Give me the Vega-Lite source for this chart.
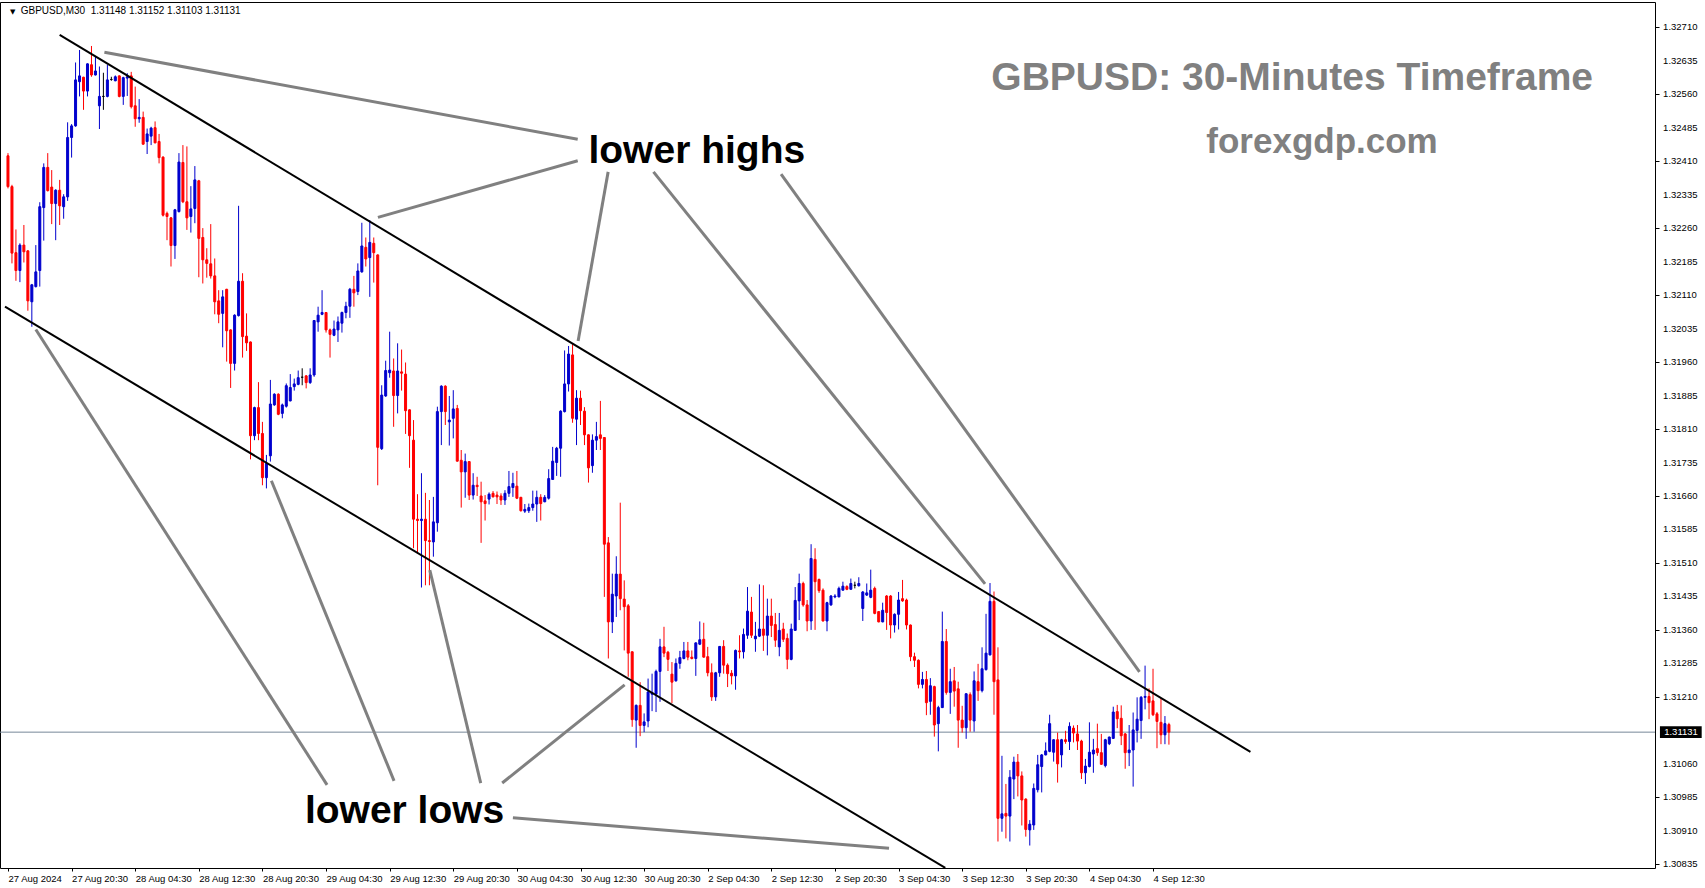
{
"$schema": "https://vega.github.io/schema/vega-lite/v6.json",
"width": 1655, "height": 866,
"autosize": {"type": "none"},
"padding": {"left": 0, "top": 2, "right": 50, "bottom": 20},
"background": "white",
"config": {"view": {"stroke": "black", "strokeWidth": 1}, "font": "Liberation Sans"},
"datasets": {
"candles": [
{"i":0,"o":1.32422,"h":1.32428,"l":1.32349,"c":1.32353},
{"i":1,"o":1.32353,"h":1.32357,"l":1.32181,"c":1.32204},
{"i":2,"o":1.32205,"h":1.32257,"l":1.32142,"c":1.32165},
{"i":3,"o":1.32165,"h":1.32226,"l":1.32139,"c":1.32222},
{"i":4,"o":1.32222,"h":1.32267,"l":1.32183,"c":1.32207},
{"i":5,"o":1.32209,"h":1.32211,"l":1.32075,"c":1.32097},
{"i":6,"o":1.32095,"h":1.32135,"l":1.32039,"c":1.32133},
{"i":7,"o":1.32129,"h":1.32222,"l":1.32127,"c":1.32162},
{"i":8,"o":1.32165,"h":1.32318,"l":1.32129,"c":1.32308},
{"i":9,"o":1.32306,"h":1.32405,"l":1.32232,"c":1.32396},
{"i":10,"o":1.32396,"h":1.32428,"l":1.32342,"c":1.32344},
{"i":11,"o":1.32352,"h":1.3239,"l":1.32269,"c":1.32315},
{"i":12,"o":1.32315,"h":1.32347,"l":1.32233,"c":1.32345},
{"i":13,"o":1.32345,"h":1.32368,"l":1.32267,"c":1.3231},
{"i":14,"o":1.32308,"h":1.32336,"l":1.32281,"c":1.3233},
{"i":15,"o":1.3233,"h":1.32497,"l":1.32321,"c":1.32463},
{"i":16,"o":1.32463,"h":1.32493,"l":1.32418,"c":1.32489},
{"i":17,"o":1.32489,"h":1.32631,"l":1.32487,"c":1.32592},
{"i":18,"o":1.32588,"h":1.32659,"l":1.32555,"c":1.32601},
{"i":19,"o":1.32598,"h":1.32599,"l":1.32525,"c":1.32567},
{"i":20,"o":1.32567,"h":1.32629,"l":1.32555,"c":1.32628},
{"i":21,"o":1.32626,"h":1.32668,"l":1.32599,"c":1.32603},
{"i":22,"o":1.32603,"h":1.32644,"l":1.32602,"c":1.32612},
{"i":23,"o":1.32534,"h":1.32622,"l":1.32482,"c":1.32555},
{"i":24,"o":1.32555,"h":1.32608,"l":1.32525,"c":1.32555},
{"i":25,"o":1.32555,"h":1.32626,"l":1.32553,"c":1.32592},
{"i":26,"o":1.32593,"h":1.32599,"l":1.3259,"c":1.32593},
{"i":27,"o":1.3259,"h":1.32602,"l":1.32589,"c":1.32599},
{"i":28,"o":1.32601,"h":1.32602,"l":1.32553,"c":1.32555},
{"i":29,"o":1.32555,"h":1.32599,"l":1.32536,"c":1.32597},
{"i":30,"o":1.32596,"h":1.32607,"l":1.32556,"c":1.32599},
{"i":31,"o":1.32601,"h":1.3261,"l":1.32528,"c":1.32532},
{"i":32,"o":1.32534,"h":1.32577,"l":1.32487,"c":1.32505},
{"i":33,"o":1.32505,"h":1.32549,"l":1.32496,"c":1.32508},
{"i":34,"o":1.32508,"h":1.32521,"l":1.32447,"c":1.32448},
{"i":35,"o":1.32454,"h":1.32483,"l":1.32426,"c":1.32471},
{"i":36,"o":1.32466,"h":1.32487,"l":1.32446,"c":1.32484},
{"i":37,"o":1.32485,"h":1.32499,"l":1.3245,"c":1.32451},
{"i":38,"o":1.32454,"h":1.32471,"l":1.32405,"c":1.32418},
{"i":39,"o":1.32419,"h":1.32421,"l":1.32286,"c":1.32289},
{"i":40,"o":1.32293,"h":1.32297,"l":1.32233,"c":1.32286},
{"i":41,"o":1.32283,"h":1.32285,"l":1.32174,"c":1.32221},
{"i":42,"o":1.32221,"h":1.32303,"l":1.32191,"c":1.32301},
{"i":43,"o":1.32297,"h":1.32428,"l":1.32295,"c":1.32408},
{"i":44,"o":1.32407,"h":1.32446,"l":1.32316,"c":1.32319},
{"i":45,"o":1.32319,"h":1.32443,"l":1.32256,"c":1.32283},
{"i":46,"o":1.32286,"h":1.32354,"l":1.3225,"c":1.32303},
{"i":47,"o":1.32304,"h":1.32399,"l":1.32271,"c":1.32368},
{"i":48,"o":1.32366,"h":1.32368,"l":1.3215,"c":1.32237},
{"i":49,"o":1.32239,"h":1.3226,"l":1.32136,"c":1.32189},
{"i":50,"o":1.32189,"h":1.32215,"l":1.32149,"c":1.32181},
{"i":51,"o":1.3218,"h":1.32269,"l":1.32147,"c":1.32153},
{"i":52,"o":1.32153,"h":1.32192,"l":1.32067,"c":1.32095},
{"i":53,"o":1.32097,"h":1.32121,"l":1.32047,"c":1.32067},
{"i":54,"o":1.32069,"h":1.32121,"l":1.31993,"c":1.32106},
{"i":55,"o":1.32123,"h":1.32124,"l":1.31961,"c":1.3203},
{"i":56,"o":1.32032,"h":1.32033,"l":1.31902,"c":1.31957},
{"i":57,"o":1.31957,"h":1.32067,"l":1.31941,"c":1.32065},
{"i":58,"o":1.32064,"h":1.3231,"l":1.32062,"c":1.32141},
{"i":59,"o":1.32141,"h":1.32159,"l":1.3197,"c":1.32017},
{"i":60,"o":1.32018,"h":1.32069,"l":1.31985,"c":1.32003},
{"i":61,"o":1.32005,"h":1.32006,"l":1.31742,"c":1.31795},
{"i":62,"o":1.31795,"h":1.3186,"l":1.31785,"c":1.31858},
{"i":63,"o":1.31858,"h":1.31915,"l":1.31785,"c":1.318},
{"i":64,"o":1.318,"h":1.31826,"l":1.31684,"c":1.31701},
{"i":65,"o":1.31701,"h":1.31752,"l":1.31677,"c":1.31733},
{"i":66,"o":1.3175,"h":1.3192,"l":1.31737,"c":1.31866},
{"i":67,"o":1.31864,"h":1.3189,"l":1.31862,"c":1.31888},
{"i":68,"o":1.31888,"h":1.3189,"l":1.31841,"c":1.31843},
{"i":69,"o":1.31845,"h":1.31867,"l":1.31834,"c":1.31864},
{"i":70,"o":1.31861,"h":1.31912,"l":1.31858,"c":1.31907},
{"i":71,"o":1.31873,"h":1.31933,"l":1.31872,"c":1.31903},
{"i":72,"o":1.31905,"h":1.31923,"l":1.31896,"c":1.31911},
{"i":73,"o":1.3191,"h":1.31941,"l":1.31908,"c":1.31925},
{"i":74,"o":1.31926,"h":1.31946,"l":1.31908,"c":1.31926},
{"i":75,"o":1.31929,"h":1.31931,"l":1.31901,"c":1.31914},
{"i":76,"o":1.31914,"h":1.31946,"l":1.31911,"c":1.31931},
{"i":77,"o":1.31931,"h":1.32054,"l":1.31927,"c":1.32053},
{"i":78,"o":1.3205,"h":1.32084,"l":1.32028,"c":1.32065},
{"i":79,"o":1.32067,"h":1.32121,"l":1.32065,"c":1.32071},
{"i":80,"o":1.32071,"h":1.32072,"l":1.32026,"c":1.32032},
{"i":81,"o":1.32032,"h":1.32035,"l":1.3197,"c":1.32022},
{"i":82,"o":1.3202,"h":1.32053,"l":1.32018,"c":1.32034},
{"i":83,"o":1.32032,"h":1.32062,"l":1.32005,"c":1.3205},
{"i":84,"o":1.32047,"h":1.32073,"l":1.32026,"c":1.32071},
{"i":85,"o":1.32071,"h":1.32095,"l":1.32058,"c":1.32085},
{"i":86,"o":1.32085,"h":1.32126,"l":1.32059,"c":1.32123},
{"i":87,"o":1.32123,"h":1.32153,"l":1.32084,"c":1.32115},
{"i":88,"o":1.32118,"h":1.32181,"l":1.3211,"c":1.32164},
{"i":89,"o":1.32162,"h":1.32272,"l":1.3216,"c":1.3222},
{"i":90,"o":1.32217,"h":1.32239,"l":1.32174,"c":1.32191},
{"i":91,"o":1.32194,"h":1.32278,"l":1.32106,"c":1.32228},
{"i":92,"o":1.32226,"h":1.32239,"l":1.32138,"c":1.32205},
{"i":93,"o":1.322,"h":1.32201,"l":1.31684,"c":1.31769},
{"i":94,"o":1.31766,"h":1.31908,"l":1.31763,"c":1.31886},
{"i":95,"o":1.31884,"h":1.31963,"l":1.31882,"c":1.31941},
{"i":96,"o":1.31936,"h":1.32028,"l":1.31925,"c":1.31942},
{"i":97,"o":1.3194,"h":1.31968,"l":1.31815,"c":1.31885},
{"i":98,"o":1.31885,"h":1.32002,"l":1.31845,"c":1.3194},
{"i":99,"o":1.31938,"h":1.31988,"l":1.31896,"c":1.31935},
{"i":100,"o":1.31933,"h":1.31959,"l":1.31799,"c":1.31851},
{"i":101,"o":1.31853,"h":1.31854,"l":1.31723,"c":1.31795},
{"i":102,"o":1.31785,"h":1.3183,"l":1.31543,"c":1.31608},
{"i":103,"o":1.31608,"h":1.31664,"l":1.31531,"c":1.31605},
{"i":104,"o":1.31605,"h":1.31711,"l":1.31455,"c":1.31608},
{"i":105,"o":1.31608,"h":1.31667,"l":1.3146,"c":1.3156},
{"i":106,"o":1.3156,"h":1.31651,"l":1.3146,"c":1.31558},
{"i":107,"o":1.31557,"h":1.31658,"l":1.31524,"c":1.31602},
{"i":108,"o":1.316,"h":1.3186,"l":1.3158,"c":1.31849},
{"i":109,"o":1.31849,"h":1.31908,"l":1.31774,"c":1.31906},
{"i":110,"o":1.31906,"h":1.31908,"l":1.31819,"c":1.31849},
{"i":111,"o":1.31826,"h":1.31884,"l":1.31773,"c":1.3183},
{"i":112,"o":1.31834,"h":1.31897,"l":1.31789,"c":1.31855},
{"i":113,"o":1.31856,"h":1.31864,"l":1.31737,"c":1.31738},
{"i":114,"o":1.3174,"h":1.31763,"l":1.31634,"c":1.31714},
{"i":115,"o":1.31714,"h":1.31755,"l":1.31656,"c":1.31737},
{"i":116,"o":1.31737,"h":1.31738,"l":1.31651,"c":1.31662},
{"i":117,"o":1.31662,"h":1.31711,"l":1.31652,"c":1.31684},
{"i":118,"o":1.31684,"h":1.31703,"l":1.3166,"c":1.31681},
{"i":119,"o":1.3166,"h":1.31692,"l":1.31555,"c":1.31647},
{"i":120,"o":1.31649,"h":1.31662,"l":1.31605,"c":1.31643},
{"i":121,"o":1.31653,"h":1.31668,"l":1.31641,"c":1.31664},
{"i":122,"o":1.31666,"h":1.31671,"l":1.31657,"c":1.31658},
{"i":123,"o":1.31662,"h":1.3167,"l":1.31642,"c":1.31658},
{"i":124,"o":1.3166,"h":1.31666,"l":1.3164,"c":1.31651},
{"i":125,"o":1.31651,"h":1.31673,"l":1.3164,"c":1.31666},
{"i":126,"o":1.31666,"h":1.31716,"l":1.31658,"c":1.31681},
{"i":127,"o":1.31679,"h":1.31712,"l":1.31658,"c":1.31688},
{"i":128,"o":1.31682,"h":1.31716,"l":1.31653,"c":1.31655},
{"i":129,"o":1.31657,"h":1.31658,"l":1.31625,"c":1.31627},
{"i":130,"o":1.31626,"h":1.31642,"l":1.31622,"c":1.3163},
{"i":131,"o":1.31627,"h":1.31643,"l":1.31622,"c":1.31634},
{"i":132,"o":1.31634,"h":1.31672,"l":1.31627,"c":1.31642},
{"i":133,"o":1.31642,"h":1.31672,"l":1.31602,"c":1.31657},
{"i":134,"o":1.31657,"h":1.31664,"l":1.31605,"c":1.31643},
{"i":135,"o":1.31647,"h":1.31662,"l":1.31646,"c":1.31657},
{"i":136,"o":1.31655,"h":1.3172,"l":1.31652,"c":1.31699},
{"i":137,"o":1.31697,"h":1.3177,"l":1.31696,"c":1.31738},
{"i":138,"o":1.31735,"h":1.3177,"l":1.31705,"c":1.31767},
{"i":139,"o":1.31767,"h":1.31852,"l":1.31703,"c":1.3185},
{"i":140,"o":1.31849,"h":1.31986,"l":1.31847,"c":1.31911},
{"i":141,"o":1.31911,"h":1.31996,"l":1.31894,"c":1.31978},
{"i":142,"o":1.31976,"h":1.32,"l":1.31824,"c":1.31834},
{"i":143,"o":1.31832,"h":1.31897,"l":1.31774,"c":1.31879},
{"i":144,"o":1.31879,"h":1.31896,"l":1.31819,"c":1.31851},
{"i":145,"o":1.3185,"h":1.31859,"l":1.31774,"c":1.31797},
{"i":146,"o":1.31797,"h":1.31798,"l":1.3169,"c":1.31723},
{"i":147,"o":1.31728,"h":1.31798,"l":1.31712,"c":1.31785},
{"i":148,"o":1.31785,"h":1.31826,"l":1.31763,"c":1.31793},
{"i":149,"o":1.31797,"h":1.31873,"l":1.31763,"c":1.31789},
{"i":150,"o":1.31791,"h":1.31792,"l":1.31434,"c":1.31552},
{"i":151,"o":1.31555,"h":1.31568,"l":1.31296,"c":1.31378},
{"i":152,"o":1.31378,"h":1.31486,"l":1.31353,"c":1.3144},
{"i":153,"o":1.31436,"h":1.31525,"l":1.31389,"c":1.31485},
{"i":154,"o":1.31485,"h":1.31645,"l":1.31404,"c":1.3143},
{"i":155,"o":1.31429,"h":1.31471,"l":1.31314,"c":1.31412},
{"i":156,"o":1.31414,"h":1.31418,"l":1.31255,"c":1.31308},
{"i":157,"o":1.31311,"h":1.31312,"l":1.31143,"c":1.31159},
{"i":158,"o":1.31158,"h":1.31193,"l":1.31096,"c":1.31191},
{"i":159,"o":1.31191,"h":1.31243,"l":1.31122,"c":1.31146},
{"i":160,"o":1.31146,"h":1.31173,"l":1.31131,"c":1.31154},
{"i":161,"o":1.31156,"h":1.31251,"l":1.31142,"c":1.31221},
{"i":162,"o":1.31216,"h":1.31262,"l":1.31178,"c":1.31219},
{"i":163,"o":1.31216,"h":1.31271,"l":1.31176,"c":1.31267},
{"i":164,"o":1.31267,"h":1.3134,"l":1.31199,"c":1.31322},
{"i":165,"o":1.31322,"h":1.31367,"l":1.31299,"c":1.31308},
{"i":166,"o":1.3131,"h":1.31313,"l":1.31268,"c":1.31294},
{"i":167,"o":1.31261,"h":1.31288,"l":1.31196,"c":1.31243},
{"i":168,"o":1.31246,"h":1.31296,"l":1.31244,"c":1.31285},
{"i":169,"o":1.31285,"h":1.31313,"l":1.31273,"c":1.31298},
{"i":170,"o":1.31296,"h":1.31333,"l":1.31294,"c":1.31313},
{"i":171,"o":1.31313,"h":1.31333,"l":1.31292,"c":1.31299},
{"i":172,"o":1.31299,"h":1.31314,"l":1.31294,"c":1.31296},
{"i":173,"o":1.31296,"h":1.31332,"l":1.31257,"c":1.31331},
{"i":174,"o":1.31328,"h":1.31379,"l":1.31326,"c":1.31338},
{"i":175,"o":1.31339,"h":1.31376,"l":1.31298,"c":1.31299},
{"i":176,"o":1.313,"h":1.31322,"l":1.31256,"c":1.31264},
{"i":177,"o":1.31264,"h":1.31285,"l":1.31201,"c":1.3121},
{"i":178,"o":1.3121,"h":1.31266,"l":1.31201,"c":1.31264},
{"i":179,"o":1.31264,"h":1.31324,"l":1.31255,"c":1.31323},
{"i":180,"o":1.31323,"h":1.31337,"l":1.31262,"c":1.31281},
{"i":181,"o":1.31281,"h":1.31285,"l":1.31232,"c":1.31262},
{"i":182,"o":1.31263,"h":1.3127,"l":1.31238,"c":1.31257},
{"i":183,"o":1.31257,"h":1.31316,"l":1.31226,"c":1.31314},
{"i":184,"o":1.31313,"h":1.31348,"l":1.31296,"c":1.31311},
{"i":185,"o":1.31311,"h":1.31363,"l":1.31296,"c":1.3135},
{"i":186,"o":1.31348,"h":1.31456,"l":1.3134,"c":1.31402},
{"i":187,"o":1.314,"h":1.31434,"l":1.31342,"c":1.31348},
{"i":188,"o":1.3134,"h":1.31378,"l":1.31311,"c":1.31346},
{"i":189,"o":1.31346,"h":1.31462,"l":1.31344,"c":1.31362},
{"i":190,"o":1.31362,"h":1.3146,"l":1.31313,"c":1.31348},
{"i":191,"o":1.31348,"h":1.3143,"l":1.31303,"c":1.31391},
{"i":192,"o":1.31391,"h":1.3143,"l":1.31344,"c":1.3137},
{"i":193,"o":1.31372,"h":1.31398,"l":1.31322,"c":1.31337},
{"i":194,"o":1.31322,"h":1.31398,"l":1.31301,"c":1.31359},
{"i":195,"o":1.31362,"h":1.31376,"l":1.31333,"c":1.31339},
{"i":196,"o":1.31341,"h":1.31352,"l":1.31272,"c":1.31294},
{"i":197,"o":1.31294,"h":1.31374,"l":1.31292,"c":1.31362},
{"i":198,"o":1.31359,"h":1.31456,"l":1.31358,"c":1.31426},
{"i":199,"o":1.31425,"h":1.31486,"l":1.31382,"c":1.31464},
{"i":200,"o":1.31464,"h":1.31468,"l":1.31412,"c":1.31416},
{"i":201,"o":1.31416,"h":1.31427,"l":1.31357,"c":1.3138},
{"i":202,"o":1.3138,"h":1.31552,"l":1.3136,"c":1.3152},
{"i":203,"o":1.31518,"h":1.31543,"l":1.3136,"c":1.31468},
{"i":204,"o":1.31473,"h":1.31475,"l":1.31443,"c":1.31448},
{"i":205,"o":1.31449,"h":1.31453,"l":1.31379,"c":1.3138},
{"i":206,"o":1.3138,"h":1.31423,"l":1.31357,"c":1.31421},
{"i":207,"o":1.31416,"h":1.31438,"l":1.31414,"c":1.31436},
{"i":208,"o":1.31434,"h":1.3144,"l":1.31431,"c":1.31436},
{"i":209,"o":1.31434,"h":1.31457,"l":1.31433,"c":1.31453},
{"i":210,"o":1.31449,"h":1.31468,"l":1.31448,"c":1.31458},
{"i":211,"o":1.31457,"h":1.3146,"l":1.31449,"c":1.31451},
{"i":212,"o":1.31451,"h":1.31475,"l":1.3145,"c":1.31464},
{"i":213,"o":1.3146,"h":1.31468,"l":1.31453,"c":1.3146},
{"i":214,"o":1.31459,"h":1.31478,"l":1.31457,"c":1.31464},
{"i":215,"o":1.31408,"h":1.31447,"l":1.3138,"c":1.31445},
{"i":216,"o":1.31438,"h":1.31464,"l":1.31436,"c":1.31443},
{"i":217,"o":1.31433,"h":1.31495,"l":1.31431,"c":1.31449},
{"i":218,"o":1.31453,"h":1.31457,"l":1.31395,"c":1.31397},
{"i":219,"o":1.31401,"h":1.31402,"l":1.31377,"c":1.31378},
{"i":220,"o":1.31378,"h":1.31421,"l":1.31377,"c":1.31404},
{"i":221,"o":1.31436,"h":1.31438,"l":1.3136,"c":1.31399},
{"i":222,"o":1.31436,"h":1.31438,"l":1.31341,"c":1.31371},
{"i":223,"o":1.31371,"h":1.31397,"l":1.31354,"c":1.31395},
{"i":224,"o":1.31395,"h":1.31445,"l":1.31361,"c":1.31427},
{"i":225,"o":1.3143,"h":1.31472,"l":1.31423,"c":1.31425},
{"i":226,"o":1.31427,"h":1.3143,"l":1.31361,"c":1.31371},
{"i":227,"o":1.31371,"h":1.31372,"l":1.3129,"c":1.313},
{"i":228,"o":1.313,"h":1.31309,"l":1.31277,"c":1.31292},
{"i":229,"o":1.31292,"h":1.31294,"l":1.31229,"c":1.31238},
{"i":230,"o":1.31238,"h":1.31266,"l":1.31229,"c":1.31249},
{"i":231,"o":1.31249,"h":1.31268,"l":1.31169,"c":1.31197},
{"i":232,"o":1.312,"h":1.31252,"l":1.3117,"c":1.31235},
{"i":233,"o":1.31233,"h":1.31235,"l":1.31121,"c":1.31147},
{"i":234,"o":1.3115,"h":1.3119,"l":1.31088,"c":1.31186},
{"i":235,"o":1.31186,"h":1.31401,"l":1.31185,"c":1.31334},
{"i":236,"o":1.31334,"h":1.31362,"l":1.31215,"c":1.3122},
{"i":237,"o":1.3122,"h":1.31273,"l":1.31172,"c":1.31244},
{"i":238,"o":1.31246,"h":1.31277,"l":1.31188,"c":1.31223},
{"i":239,"o":1.31228,"h":1.31244,"l":1.31096,"c":1.31158},
{"i":240,"o":1.31158,"h":1.3119,"l":1.3113,"c":1.31141},
{"i":241,"o":1.31141,"h":1.31218,"l":1.31116,"c":1.31217},
{"i":242,"o":1.31215,"h":1.3122,"l":1.31132,"c":1.31158},
{"i":243,"o":1.31156,"h":1.31267,"l":1.31132,"c":1.31246},
{"i":244,"o":1.31244,"h":1.31284,"l":1.31201,"c":1.31224},
{"i":245,"o":1.31224,"h":1.31321,"l":1.3122,"c":1.31273},
{"i":246,"o":1.31271,"h":1.31396,"l":1.31269,"c":1.31308},
{"i":247,"o":1.31304,"h":1.31465,"l":1.31303,"c":1.31424},
{"i":248,"o":1.31424,"h":1.31446,"l":1.3117,"c":1.31244},
{"i":249,"o":1.31248,"h":1.31321,"l":1.30886,"c":1.30938},
{"i":250,"o":1.30938,"h":1.31078,"l":1.30908,"c":1.30948},
{"i":251,"o":1.30949,"h":1.31015,"l":1.30893,"c":1.30943},
{"i":252,"o":1.30943,"h":1.31046,"l":1.30886,"c":1.3103},
{"i":253,"o":1.31026,"h":1.31076,"l":1.30981,"c":1.31064},
{"i":254,"o":1.31064,"h":1.31082,"l":1.30987,"c":1.31033},
{"i":255,"o":1.31033,"h":1.31043,"l":1.30922,"c":1.30979},
{"i":256,"o":1.30981,"h":1.30983,"l":1.30897,"c":1.30913},
{"i":257,"o":1.30912,"h":1.30934,"l":1.30877,"c":1.30925},
{"i":258,"o":1.30923,"h":1.31016,"l":1.30912,"c":1.31005},
{"i":259,"o":1.31002,"h":1.3108,"l":1.30996,"c":1.31058},
{"i":260,"o":1.31054,"h":1.31082,"l":1.30996,"c":1.3108},
{"i":261,"o":1.3108,"h":1.31108,"l":1.31079,"c":1.31089},
{"i":262,"o":1.31088,"h":1.3117,"l":1.31086,"c":1.3115},
{"i":263,"o":1.31086,"h":1.31115,"l":1.31065,"c":1.31114},
{"i":264,"o":1.31114,"h":1.3113,"l":1.31018,"c":1.3106},
{"i":265,"o":1.3108,"h":1.31116,"l":1.31052,"c":1.31114},
{"i":266,"o":1.31114,"h":1.31134,"l":1.31105,"c":1.3111},
{"i":267,"o":1.3111,"h":1.31153,"l":1.31091,"c":1.31144},
{"i":268,"o":1.3114,"h":1.31146,"l":1.31108,"c":1.31129},
{"i":269,"o":1.31127,"h":1.31147,"l":1.31091,"c":1.31111},
{"i":270,"o":1.31111,"h":1.31114,"l":1.31026,"c":1.3104},
{"i":271,"o":1.3104,"h":1.31071,"l":1.31015,"c":1.31055},
{"i":272,"o":1.31054,"h":1.31153,"l":1.31052,"c":1.31086},
{"i":273,"o":1.31082,"h":1.31116,"l":1.3104,"c":1.31091},
{"i":274,"o":1.31094,"h":1.3115,"l":1.31078,"c":1.31085},
{"i":275,"o":1.31085,"h":1.31127,"l":1.31058,"c":1.31059},
{"i":276,"o":1.31056,"h":1.31116,"l":1.31052,"c":1.31114},
{"i":277,"o":1.31105,"h":1.31121,"l":1.31102,"c":1.3112},
{"i":278,"o":1.31117,"h":1.31188,"l":1.31116,"c":1.31176},
{"i":279,"o":1.31177,"h":1.31192,"l":1.3114,"c":1.31161},
{"i":280,"o":1.31162,"h":1.31191,"l":1.31102,"c":1.31123},
{"i":281,"o":1.31127,"h":1.31129,"l":1.31049,"c":1.31085},
{"i":282,"o":1.31085,"h":1.31147,"l":1.31055,"c":1.31091},
{"i":283,"o":1.31091,"h":1.31175,"l":1.31009,"c":1.31136},
{"i":284,"o":1.31135,"h":1.31209,"l":1.31108,"c":1.3116},
{"i":285,"o":1.31157,"h":1.31212,"l":1.31116,"c":1.31209},
{"i":286,"o":1.31209,"h":1.3128,"l":1.31182,"c":1.31211},
{"i":287,"o":1.31211,"h":1.31229,"l":1.3116,"c":1.31197},
{"i":288,"o":1.31201,"h":1.31273,"l":1.31167,"c":1.3117},
{"i":289,"o":1.31172,"h":1.31176,"l":1.31095,"c":1.31155},
{"i":290,"o":1.31153,"h":1.31207,"l":1.31104,"c":1.31125},
{"i":291,"o":1.31125,"h":1.31167,"l":1.31104,"c":1.3115},
{"i":292,"o":1.31148,"h":1.31152,"l":1.31103,"c":1.31131}
],
"trend": [
{"k":"upper","i":13,"p":1.32693},
{"k":"upper","i":312.5,"p":1.31087},
{"k":"lower","i":-0.75,"p":1.32084},
{"k":"lower","i":235.75,"p":1.30827}
],
"pointers": [
{"i1":143.3,"p1":1.32459,"i2":24.25,"p2":1.32654},
{"i1":143.3,"p1":1.32411,"i2":93.05,"p2":1.32284},
{"i1":150.95,"p1":1.32386,"i2":143.4,"p2":1.32007},
{"i1":162.35,"p1":1.32386,"i2":245.75,"p2":1.31463},
{"i1":194.45,"p1":1.32381,"i2":284.6,"p2":1.31266},
{"i1":80.25,"p1":1.31013,"i2":7.0,"p2":1.32033},
{"i1":97.1,"p1":1.31022,"i2":66.25,"p2":1.31694},
{"i1":118.9,"p1":1.31017,"i2":106.1,"p2":1.31494},
{"i1":124.3,"p1":1.31017,"i2":155.1,"p2":1.31237},
{"i1":127.0,"p1":1.30939,"i2":221.6,"p2":1.30871}
],
"yticks": [
{"v":1.30835},{"v":1.3091},{"v":1.30985},{"v":1.3106},{"v":1.3121},{"v":1.31285},{"v":1.3136},{"v":1.31435},{"v":1.3151},{"v":1.31585},{"v":1.3166},{"v":1.31735},{"v":1.3181},{"v":1.31885},{"v":1.3196},{"v":1.32035},{"v":1.3211},{"v":1.32185},{"v":1.3226},{"v":1.32335},{"v":1.3241},{"v":1.32485},{"v":1.3256},{"v":1.32635},{"v":1.3271}
]
},
"layer": [
{
"data": {"values": [{"p": 1.31131}]},
"mark": {"type": "rule", "color": "#778899", "strokeWidth": 1},
"encoding": {
"y": {"field": "p", "type": "quantitative", "scale": {"domain": [1.308267, 1.327665], "nice": false, "zero": false},
"axis": {"orient": "right", "values": [1.30835,1.3091,1.30985,1.3106,1.3121,1.31285,1.3136,1.31435,1.3151,1.31585,1.3166,1.31735,1.3181,1.31885,1.3196,1.32035,1.3211,1.32185,1.3226,1.32335,1.3241,1.32485,1.3256,1.32635,1.3271],
"labels": false, "tickSize": 4, "tickColor": "black", "domain": false, "grid": false, "title": null}}
}
},
{
"data": {"name": "candles"},
"mark": {"type": "rule", "strokeWidth": 1},
"encoding": {
"x": {"field": "i", "type": "quantitative", "scale": {"domain": [-0.75, 413], "nice": false, "zero": false},
"axis": {"orient": "bottom", "values": [0,16,32,48,64,80,96,112,128,144,160,176,192,208,224,240,256,272,288],
"labelExpr": "['27 Aug 2024','27 Aug 20:30','28 Aug 04:30','28 Aug 12:30','28 Aug 20:30','29 Aug 04:30','29 Aug 12:30','29 Aug 20:30','30 Aug 04:30','30 Aug 12:30','30 Aug 20:30','2 Sep 04:30','2 Sep 12:30','2 Sep 20:30','3 Sep 04:30','3 Sep 12:30','3 Sep 20:30','4 Sep 04:30','4 Sep 12:30'][round(datum.value/16)]",
"labelAlign": "left", "labelBaseline": "top", "labelPadding": 2, "labelDx": -3, "tickSize": 3, "tickColor": "black", "domain": false, "grid": false, "title": null,
"labelFontSize": 9.5, "labelFont": "Liberation Sans", "labelColor": "black", "labelOverlap": false, "labelFlush": false, "labelBound": false}},
"y": {"field": "l", "type": "quantitative", "scale": {"domain": [1.308267, 1.327665], "nice": false, "zero": false}},
"y2": {"field": "h"},
"color": {"condition": [{"test": "datum.c > datum.o", "value": "#0000cd"}, {"test": "datum.c < datum.o", "value": "#ff0000"}], "value": "#000000"}
}
},
{
"data": {"name": "candles"},
"mark": {"type": "bar", "size": 2, "strokeWidth": 1},
"encoding": {
"x": {"field": "i", "type": "quantitative", "scale": {"domain": [-0.75, 413], "nice": false, "zero": false}},
"y": {"field": "o", "type": "quantitative", "scale": {"domain": [1.308267, 1.327665], "nice": false, "zero": false}},
"y2": {"field": "c"},
"color": {"condition": [{"test": "datum.c > datum.o", "value": "#0000cd"}, {"test": "datum.c < datum.o", "value": "#ff0000"}], "value": "#000000"},
"stroke": {"condition": [{"test": "datum.c > datum.o", "value": "#0000cd"}, {"test": "datum.c < datum.o", "value": "#ff0000"}], "value": "#000000"}
}
},
{
"data": {"name": "trend"},
"mark": {"type": "line", "color": "black", "strokeWidth": 2, "clip": true},
"encoding": {
"x": {"field": "i", "type": "quantitative", "scale": {"domain": [-0.75, 413], "nice": false, "zero": false}},
"y": {"field": "p", "type": "quantitative", "scale": {"domain": [1.308267, 1.327665], "nice": false, "zero": false}},
"detail": {"field": "k"}
}
},
{
"data": {"name": "pointers"},
"mark": {"type": "rule", "color": "#808080", "strokeWidth": 3},
"encoding": {
"x": {"field": "i1", "type": "quantitative", "scale": {"domain": [-0.75, 413], "nice": false, "zero": false}},
"y": {"field": "p1", "type": "quantitative", "scale": {"domain": [1.308267, 1.327665], "nice": false, "zero": false}},
"x2": {"field": "i2"},
"y2": {"field": "p2"}
}
},
{
"data": {"name": "yticks"},
"mark": {"type": "text", "font": "Liberation Sans", "fontSize": 9.5, "color": "black", "align": "left", "baseline": "middle"},
"encoding": {
"x": {"datum": 416.3, "type": "quantitative"},
"y": {"field": "v", "type": "quantitative"},
"text": {"field": "v", "type": "quantitative", "format": ".5f"}
}
},
{
"data": {"values": [{"i": 173.25, "p": 1.32406, "t": "lower highs"}, {"i": 99.75, "p": 1.30928, "t": "lower lows"}]},
"mark": {"type": "text", "font": "Liberation Sans", "fontWeight": "bold", "fontSize": 39, "color": "black", "align": "center", "baseline": "alphabetic"},
"encoding": {
"x": {"field": "i", "type": "quantitative"},
"y": {"field": "p", "type": "quantitative"},
"text": {"field": "t"}
}
},
{
"data": {"values": [{"i": 323, "p": 1.32569, "t": "GBPUSD: 30-Minutes Timeframe"}]},
"mark": {"type": "text", "font": "Liberation Sans", "fontWeight": "bold", "fontSize": 39, "color": "#808080", "align": "center", "baseline": "alphabetic"},
"encoding": {
"x": {"field": "i", "type": "quantitative"},
"y": {"field": "p", "type": "quantitative"},
"text": {"field": "t"}
}
},
{
"data": {"values": [{"i": 330.5, "p": 1.32428, "t": "forexgdp.com"}]},
"mark": {"type": "text", "font": "Liberation Sans", "fontWeight": "bold", "fontSize": 35, "color": "#808080", "align": "center", "baseline": "alphabetic"},
"encoding": {
"x": {"field": "i", "type": "quantitative"},
"y": {"field": "p", "type": "quantitative"},
"text": {"field": "t"}
}
},
{
"data": {"values": [{"i": 3.2, "p": 1.3274, "t": "GBPUSD,M30\u00a0 1.31148 1.31152 1.31103 1.31131"}]},
"mark": {"type": "text", "font": "Liberation Sans", "fontSize": 10, "color": "black", "align": "left", "baseline": "alphabetic"},
"encoding": {
"x": {"field": "i", "type": "quantitative"},
"y": {"field": "p", "type": "quantitative"},
"text": {"field": "t"}
}
},
{
"data": {"values": [{"i": 1.2, "p": 1.3274, "t": "▼"}]},
"mark": {"type": "text", "font": "DejaVu Sans", "fontSize": 7, "color": "black", "align": "center", "baseline": "alphabetic"},
"encoding": {
"x": {"field": "i", "type": "quantitative"},
"y": {"field": "p", "type": "quantitative"},
"text": {"field": "t"}
}
},
{
"data": {"values": [{"i1": 415.5, "i2": 426, "p1": 1.31144, "p2": 1.31118}]},
"mark": {"type": "rect", "color": "black"},
"encoding": {
"x": {"field": "i1", "type": "quantitative"},
"x2": {"field": "i2"},
"y": {"field": "p1", "type": "quantitative"},
"y2": {"field": "p2"}
}
},
{
"data": {"values": [{"i": 420.8, "p": 1.31131, "t": "1.31131"}]},
"mark": {"type": "text", "font": "Liberation Sans", "fontSize": 9.5, "color": "white", "align": "center", "baseline": "middle"},
"encoding": {
"x": {"field": "i", "type": "quantitative"},
"y": {"field": "p", "type": "quantitative"},
"text": {"field": "t"}
}
}
]
}
